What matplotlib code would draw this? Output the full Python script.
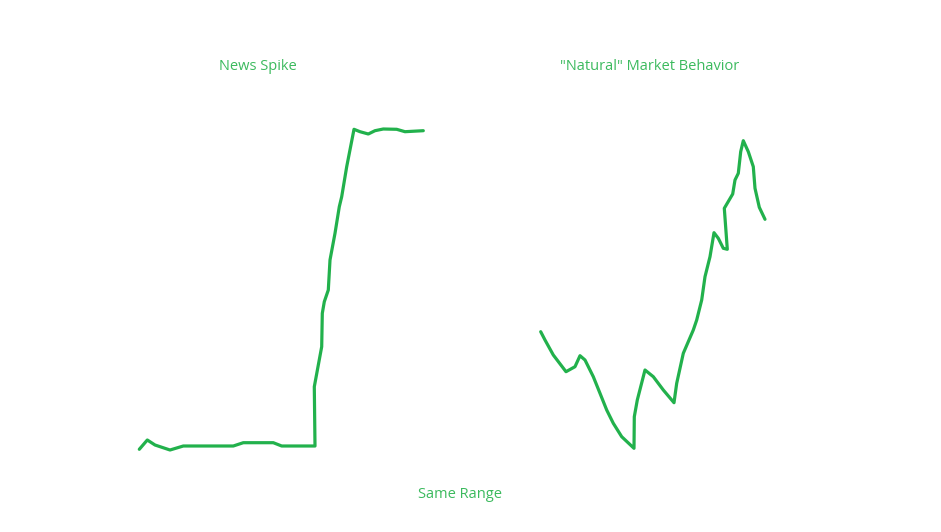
import matplotlib.pyplot as plt

# hand-drawn sketch, values in pixel units (y grows downward)
spike_x = [139.3, 147.3, 155, 170, 183.3, 233.3, 243.3, 273.3, 281.7, 315,
           314.3, 321.7, 322.3, 324.3, 328.3, 330, 335, 339.3, 341.7, 346.7,
           354, 360, 368.3, 375, 383.3, 396.7, 405, 423.3]
spike_y = [449.3, 440, 445, 450, 446, 446, 442.7, 442.7, 446, 446,
           386.7, 346.7, 313.3, 301.7, 290, 260, 233.3, 206.7, 196.7, 166.7,
           129.3, 131.7, 134, 130.7, 129, 129.3, 131.7, 130.7]

natural_x = [540.7, 545, 553.3, 566, 575, 580, 585, 593.3, 600, 606.7,
             613.3, 621.7, 634, 634.3, 637.3, 645, 653.3, 663.3, 674, 676.7,
             683.3, 693.3, 696.7, 701.7, 705, 710, 714, 718.3, 723.3, 727.3,
             724.3, 732.7, 735, 738.3, 740.7, 743.3, 748.3, 753.3, 755, 759.3,
             765]
natural_y = [331.7, 340, 355, 371.7, 366.7, 355.7, 360, 376.7, 393.3, 410,
             423.3, 436.7, 448.3, 416.7, 400, 370, 376.7, 390, 402.7, 383.3,
             353.3, 330, 320, 300, 276.7, 256.7, 232.7, 238.3, 248.3, 249.3,
             208.3, 194, 180, 173.3, 151.7, 140.7, 151.7, 166.7, 188.3, 207.3,
             219.3]

labels = ["News Spike", '"Natural" Market Behavior', "Same Range"]
label_x = [258, 650, 460]
label_y = [66, 66, 495]

green = '#22b14c'

fig = plt.figure(figsize=(9.41, 5.32), dpi=100)
ax = fig.add_axes([0, 0, 1, 1])
ax.set_xlim(0, 941)
ax.set_ylim(532, 0)
ax.axis('off')

ax.plot(spike_x, spike_y, color=green, lw=2.3, solid_capstyle='round', solid_joinstyle='round')
ax.plot(natural_x, natural_y, color=green, lw=2.3, solid_capstyle='round', solid_joinstyle='round')

for t, x, y in zip(labels, label_x, label_y):
    ax.text(x, y, t, color='#3cba5e', fontsize=10.5, family=['Open Sans', 'DejaVu Sans'],
            ha='center', va='center')

fig.savefig('out.png', dpi=100, facecolor='white')
